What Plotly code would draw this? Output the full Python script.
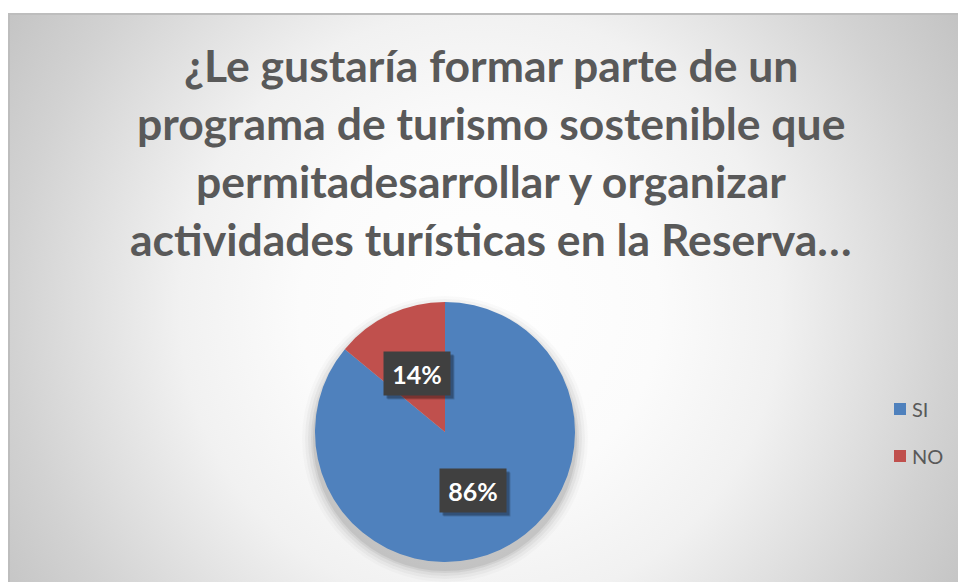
import math
import base64
import plotly.graph_objects as go

# ---- data ----
labels = ["SI", "NO"]
values = [86, 14]
colors = ["#4F81BD", "#C0504D"]
title_lines = [
    "¿Le gustaría formar parte de un",
    "programa de turismo sostenible que",
    "permitadesarrollar y organizar",
    "actividades turísticas en la Reserva…",
]

W, H = 958, 582
# chart frame (pixels)
FX0, FY0 = 9, 14
# pie geometry (pixels)
CX, CY, R = 445, 432, 130

def px(x):
    return x / W

def py(y):
    return 1 - y / H

# radial gradient background as SVG
fw, fh = W - FX0, H - FY0
svg = f'''<svg xmlns="http://www.w3.org/2000/svg" width="{fw}" height="{fh}" viewBox="0 0 {fw} {fh}" preserveAspectRatio="none">
<defs><radialGradient id="g" gradientUnits="userSpaceOnUse" cx="{480-FX0}" cy="{310-FY0}" r="600">
<stop offset="0" stop-color="#ffffff"/>
<stop offset="0.3" stop-color="#fbfbfb"/>
<stop offset="0.5" stop-color="#f1f1f1"/>
<stop offset="0.78" stop-color="#d2d2d2"/>
<stop offset="0.93" stop-color="#c4c4c4"/>
<stop offset="1" stop-color="#bfbfbf"/>
</radialGradient></defs>
<rect x="0" y="0" width="{fw}" height="{fh}" fill="url(#g)"/>
</svg>'''
src = "data:image/svg+xml;base64," + base64.b64encode(svg.encode()).decode()

fig = go.Figure()
fig.add_trace(go.Pie(
    labels=labels,
    values=values,
    marker=dict(colors=colors, line=dict(width=0)),
    sort=False,
    direction="clockwise",
    rotation=0,
    textinfo="none",
    hoverinfo="label+percent",
    showlegend=False,
    domain=dict(x=[px(CX - R), px(CX + R)], y=[py(CY + R), py(CY - R)]),
))

shapes = []
# frame border
shapes.append(dict(type="rect", xref="paper", yref="paper",
                   x0=px(FX0), x1=px(W + 5), y0=py(H + 5), y1=py(FY0),
                   line=dict(color="#bdbdbd", width=2), fillcolor="rgba(0,0,0,0)", layer="below"))
# soft shadow under pie
for dr, op in [(13, 0.02), (10, 0.03), (7, 0.04), (4, 0.055), (2, 0.065)]:
    sy = CY + 7
    shapes.append(dict(type="circle", xref="paper", yref="paper",
                       x0=px(CX - R - dr), x1=px(CX + R + dr),
                       y0=py(sy + R + dr), y1=py(sy - R - dr),
                       line=dict(width=0), fillcolor=f"rgba(0,0,0,{op})", layer="below"))

annotations = []
# title
title_font = dict(family="Lato", size=44.5, color="#595959")
for i, line in enumerate(title_lines):
    annotations.append(dict(text=f"<b>{line}</b>", x=px(491), y=py(64 + 58.3 * i),
                            xref="paper", yref="paper", xanchor="center", yanchor="middle",
                            showarrow=False, font=title_font))

# data labels, placed at half radius on the slice bisector
total = sum(values)
start = 0.0
for lab, v in zip(labels, values):
    frac = v / total
    mid = (start + frac / 2) * 2 * math.pi
    start += frac
    lx = CX + 0.5 * R * math.sin(mid)
    ly = CY - 0.5 * R * math.cos(mid)
    pct = f"{round(frac * 100)}%"
    for off, op in [(4, 0.15), (3, 0.25)]:
        annotations.append(dict(text=" ", x=px(lx + off), y=py(ly + off), xref="paper", yref="paper",
                                xanchor="center", yanchor="middle", showarrow=False,
                                width=64, height=41, bgcolor=f"rgba(0,0,0,{op})",
                                font=dict(size=12)))
    annotations.append(dict(text=f"<b>{pct}</b>", x=px(lx), y=py(ly), xref="paper", yref="paper",
                            xanchor="center", yanchor="middle", showarrow=False,
                            width=64, height=41, bgcolor="#404040",
                            font=dict(family="Lato", size=25, color="#ffffff")))

# legend
leg_y = [409, 456]
for lab, col, yy in zip(labels, colors, leg_y):
    shapes.append(dict(type="rect", xref="paper", yref="paper",
                       x0=px(894), x1=px(906), y0=py(yy + 6), y1=py(yy - 6),
                       line=dict(width=0), fillcolor=col))
    annotations.append(dict(text=lab, x=px(910), y=py(yy), xref="paper", yref="paper",
                            xanchor="left", yanchor="middle", showarrow=False,
                            font=dict(family="Lato", size=20, color="#595959")))

fig.update_layout(
    width=W, height=H,
    margin=dict(l=0, r=0, t=0, b=0),
    paper_bgcolor="#ffffff",
    plot_bgcolor="#ffffff",
    shapes=shapes,
    annotations=annotations,
    images=[dict(source=src, xref="paper", yref="paper", x=px(FX0), y=py(FY0),
                 sizex=(W - FX0) / W, sizey=(H - FY0) / H, sizing="stretch",
                 xanchor="left", yanchor="top", layer="below")],
)

fig.write_html("out.html", config={"displayModeBar": False},
               post_script="document.body.style.margin='0';")
